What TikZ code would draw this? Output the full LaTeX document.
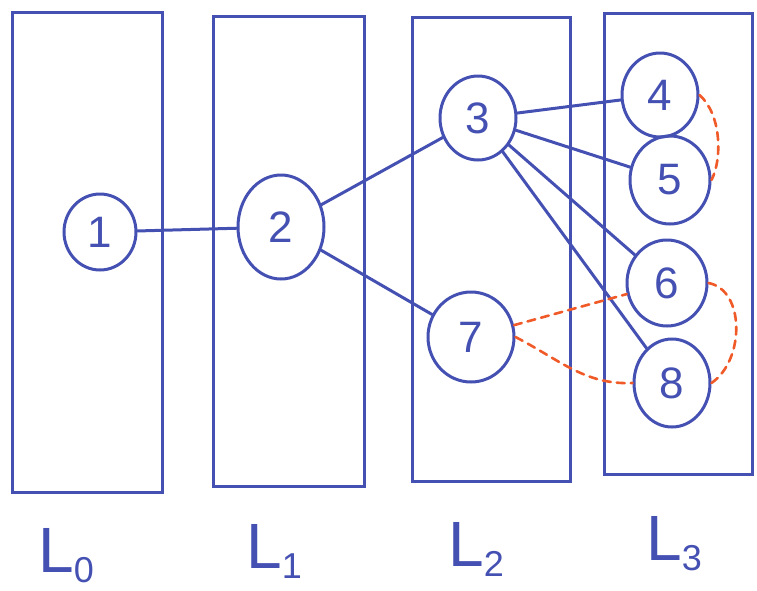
\documentclass[tikz,border=0pt]{standalone}
\usepackage{fontspec}
\setmainfont{Liberation Sans}
\usetikzlibrary{shapes.geometric}
\definecolor{ink}{RGB}{68,80,178}
\definecolor{hl}{RGB}{240,90,40}
\tikzset{
  layerbox/.style={draw=ink, line width=3pt},
  nd/.style={ellipse, draw=ink, line width=3pt, inner sep=0pt, text=ink,
             font=\fontsize{44}{44}\selectfont},
  link/.style={draw=ink, line width=3pt, line cap=round},
  tie/.style={draw=hl, line width=2.6pt, dash pattern=on 8pt off 6pt, line cap=round},
  lab/.style={text=ink, font=\fontsize{64}{64}\selectfont, inner sep=0pt, anchor=base west}
}
\newcommand{\lsub}[1]{\raisebox{-0.16em}{\fontsize{36}{36}\selectfont #1}}
\begin{document}
\begin{tikzpicture}[x=1pt,y=1pt]
\useasboundingbox (0,0) rectangle (757,-590);

% the four layers
\draw[layerbox] (12,-12) rectangle (162,-492);
\draw[layerbox] (213,-16) rectangle (364,-486);
\draw[layerbox] (412,-17) rectangle (570,-481);
\draw[layerbox] (604,-13) rectangle (752,-474);

% vertices
\node[nd, minimum width=72, minimum height=76] (n1) at (100,-232) {1};
\node[nd, minimum width=86, minimum height=104] (n2) at (281,-227) {2};
\node[nd, minimum width=76, minimum height=84] (n3) at (478,-118) {3};
\node[nd, minimum width=76, minimum height=84] (n4) at (660,-95) {4};
\node[nd, minimum width=80, minimum height=88] (n5) at (670,-180) {5};
\node[nd, minimum width=80, minimum height=86] (n6) at (667,-283) {6};
\node[nd, minimum width=86, minimum height=90] (n7) at (471,-337) {7};
\node[nd, minimum width=76, minimum height=88] (n8) at (672,-383) {8};

% tree edges
\draw[link] (n1) -- (n2);
\draw[link] (n2) -- (n3);
\draw[link] (n2) -- (n7);
\draw[link] (n3) -- (n4);
\draw[link] (n3) -- (n5);
\draw[link] (n3) -- (n6);
\draw[link] (n3) -- (n8);

% non-tree edges
\draw[tie] (n4.east) .. controls (722,-115) and (722,-160) .. (n5.east);
\draw[tie] (n6.east) .. controls (745,-290) and (745,-360) .. (n8.east);
\draw[tie] (n7) -- (n6);
\draw[tie] (n7.east) .. controls (560,-360) and (585,-385) .. (n8.west);

% layer labels
\node[lab] (l0) at (38,-572) {L\lsub{0}};
\node[lab] (l1) at (246,-568) {L\lsub{1}};
\node[lab] (l2) at (448,-566) {L\lsub{2}};
\node[lab] (l3) at (646,-560) {L\lsub{3}};
\end{tikzpicture}
\end{document}
